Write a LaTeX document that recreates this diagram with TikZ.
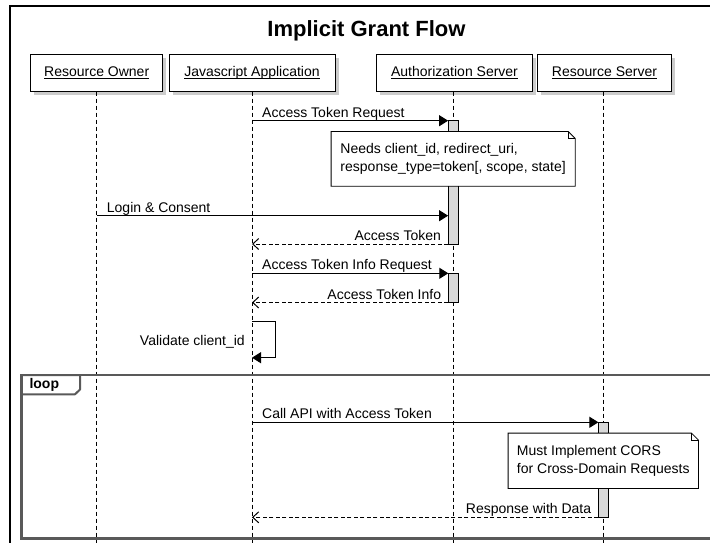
\documentclass[tikz,border=0pt]{standalone}
\usepackage{fontspec}
\setmainfont{Liberation Sans}
\usetikzlibrary{arrows.meta,shadows,calc}
\newcommand\ulabel[1]{\setbox0=\hbox{#1}\copy0\kern-\wd0\rule[-2.3pt]{\wd0}{0.9pt}}
\begin{document}
\begin{tikzpicture}[x=1pt,y=-1pt, font=\fontsize{14}{18}\selectfont,
  participant/.style={draw=black, line width=1pt, fill=white, minimum height=37pt, inner sep=0pt,
    drop shadow={shadow xshift=3.5pt, shadow yshift=-3.5pt, fill=black!40}},
  lifeline/.style={line width=0.8pt, dash pattern=on 4pt off 3pt},
  actbar/.style={draw=black, line width=0.8pt, fill=black!15, minimum width=10pt, inner sep=0pt},
  msg/.style={line width=1pt, -{Triangle[length=9pt,width=11pt]}},
  ret/.style={line width=1pt, dash pattern=on 4pt off 2.5pt, -{Straight Barb[length=6pt,width=11pt]}},
  lbl/.style={inner sep=0pt},
  notebox/.style={fill=white, inner sep=0pt, align=left},
  noteline/.style={line width=0.8pt},
  frameline/.style={draw=black!65, line width=2.5pt},
]
\useasboundingbox (0,0) rectangle (710,542);
\clip (0,0) rectangle (710,542);

% outer frame
\draw[line width=2.5pt] (10,620) -- (10,6) -- (740,6);
\node[font=\bfseries\fontsize{22}{26}\selectfont] (title) at (366.5,31) {Implicit Grant Flow};

% participants
\node[participant, minimum width=132pt] (pRO) at (96.7,73) {\ulabel{Resource Owner}};
\node[participant, minimum width=166pt] (pJS) at (252,73) {\ulabel{Javascript Application}};
\node[participant, minimum width=156pt] (pAS) at (454.5,73) {\ulabel{Authorization Server}};
\node[participant, minimum width=134pt] (pRS) at (604.5,73) {\ulabel{Resource Server}};

\coordinate (tRO) at (96.7,91.5);  \coordinate (eRO) at (96.7,600);
\coordinate (tJS) at (252,91.5);   \coordinate (eJS) at (252,600);
\coordinate (tAS) at (453,91.5);   \coordinate (eAS) at (453,600);
\coordinate (tRS) at (603,91.5);   \coordinate (eRS) at (603,600);
\draw[lifeline] (tRO) -- (eRO);
\draw[lifeline] (tJS) -- (eJS);
\draw[lifeline] (tAS) -- (eAS);
\draw[lifeline] (tRS) -- (eRS);

% loop frame
\draw[frameline] (21.7,375) rectangle (740,538.5);
\draw[draw=black!65, line width=2pt, line join=round] (21.7,375) -- (80,375) -- (80,389.5) -- (75,394.3) -- (21.7,394.3);
\node[font=\bfseries\fontsize{14}{18}\selectfont, inner sep=0pt, anchor=west] (looplbl) at (29.3,385) {loop};

% activation bars
\node[actbar, minimum height=123.3pt] (a1) at (453.5,182.35) {};
\node[actbar, minimum height=29.2pt] (a2) at (453.7,287.9) {};
\node[actbar, minimum height=95pt] (a3) at (603.8,469.8) {};

% notes
\node[notebox, minimum width=243.7pt, minimum height=54.3pt] (n1) at (453.15,158.85)
  {Needs client\_id, redirect\_uri,\\response\_type=token[, scope, state]};
\draw[noteline] (n1.north west) -- ($(n1.north east)+(-7,0)$) -- ($(n1.north east)+(0,7)$) -- (n1.south east) -- (n1.south west) -- cycle;
\draw[noteline] ($(n1.north east)+(-7,0)$) -- ($(n1.north east)+(-7,7)$) -- ($(n1.north east)+(0,7)$);

\node[notebox, minimum width=190pt, minimum height=55pt] (n2) at (603.3,460.8)
  {Must Implement CORS\\for Cross-Domain Requests};
\draw[noteline] (n2.north west) -- ($(n2.north east)+(-7,0)$) -- ($(n2.north east)+(0,7)$) -- (n2.south east) -- (n2.south west) -- cycle;
\draw[noteline] ($(n2.north east)+(-7,0)$) -- ($(n2.north east)+(-7,7)$) -- ($(n2.north east)+(0,7)$);

% messages
\coordinate (m1) at (252,120.7);
\draw[msg] (m1) -- (m1 -| a1.west);
\node[lbl, anchor=base west] (l1) at ($(m1)+(10,-3.5)$) {Access Token Request};

\coordinate (m2) at (96.7,215.7);
\draw[msg] (m2) -- (m2 -| a1.west);
\node[lbl, anchor=base west] (l2) at ($(m2)+(10,-3.5)$) {Login \& Consent};

\coordinate (r1) at (252,244);
\draw[ret] (r1 -| a1.west) -- (r1);
\node[lbl, anchor=base east] (l3) at ($(r1 -| a1.west)+(-7,-3.5)$) {Access Token};

\coordinate (m3) at (252,273.3);
\draw[msg] (m3) -- (m3 -| a2.west);
\node[lbl, anchor=base west] (l4) at ($(m3)+(10,-3.5)$) {Access Token Info Request};

\coordinate (r2) at (252,302.5);
\draw[ret] (r2 -| a2.west) -- (r2);
\node[lbl, anchor=base east] (l5) at ($(r2 -| a2.west)+(-7,-3.5)$) {Access Token Info};

\coordinate (s1) at (252,321.7);
\coordinate (s2) at (252,357.7);
\draw[msg] (s1) -- ++(23,0) -- ++(0,36) -- (s2);
\node[lbl, anchor=base east] (l6) at (245,345.5) {Validate client\_id};

\coordinate (m4) at (252,422.3);
\draw[msg] (m4) -- (m4 -| a3.west);
\node[lbl, anchor=base west] (l7) at ($(m4)+(10,-3.5)$) {Call API with Access Token};

\coordinate (r3) at (252,517.3);
\draw[ret] (r3 -| a3.west) -- (r3);
\node[lbl, anchor=base east] (l8) at ($(r3 -| a3.west)+(-7,-3.5)$) {Response with Data};
\end{tikzpicture}
\end{document}
